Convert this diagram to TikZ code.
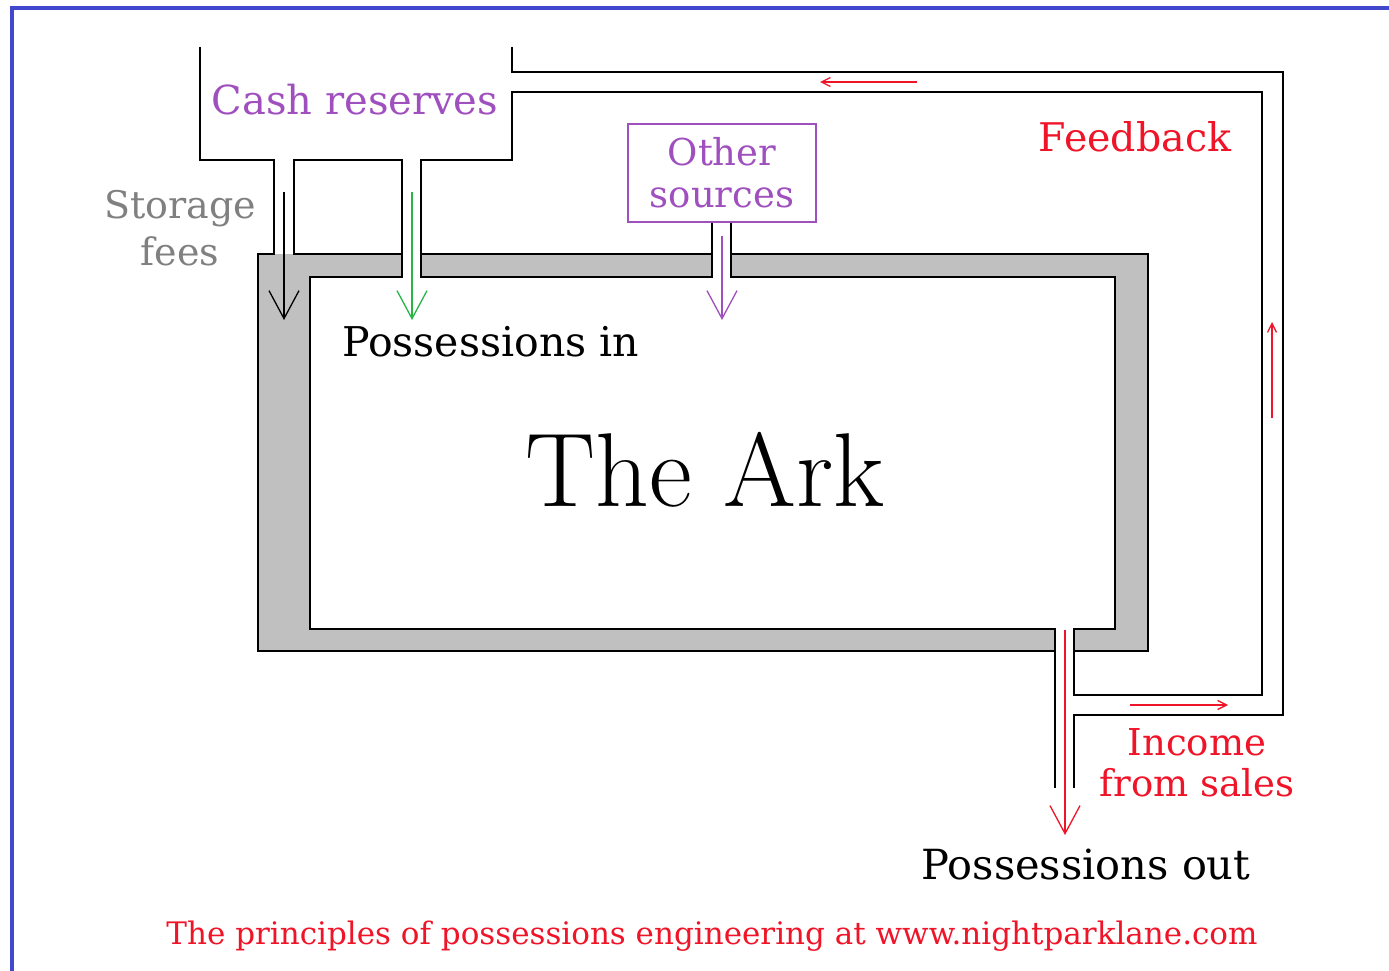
\documentclass[tikz,border=0pt]{standalone}
\usepackage{fontspec}
\setmainfont{DejaVu Serif}
\newfontfamily\arkfont{Latin Modern Roman}
\usetikzlibrary{arrows.meta}

\definecolor{frameblue}{RGB}{66,72,206}
\definecolor{wallgrey}{RGB}{192,192,192}
\definecolor{cashpurple}{RGB}{160,80,190}
\definecolor{feegrey}{RGB}{128,128,128}
\definecolor{ingreen}{RGB}{40,180,70}
\definecolor{salesred}{RGB}{240,20,40}

\tikzset{
  pipe/.style={draw, line width=2pt, line join=miter},
  flow/.style={line width=1.3pt, -{Straight Barb[length=28pt,width=30pt,line width=1.3pt]}},
  loopflow/.style={line width=1.3pt, salesred, -{Straight Barb[length=9pt,width=9pt,line width=1.3pt]}},
  label/.style={font=\fontsize{38}{46}\selectfont, align=center, inner sep=0pt}
}

\begin{document}
\begin{tikzpicture}[x=1pt,y=-1pt]
\useasboundingbox (0,0) rectangle (1389,971);
\fill[white] (0,0) rectangle (1389,971);
% frame
\draw[frameblue, line width=4pt] (12,975) -- (12,8) -- (1395,8);
% the ark walls
\fill[wallgrey] (258,254) rectangle (1148,651);
\fill[white] (310,277) rectangle (1115,629);
\fill[white] (402,252) rectangle (421,279);
\fill[white] (712,252) rectangle (731,279);
\fill[white] (1055,627) rectangle (1074,653);
\fill[white] (274,160) rectangle (294,253);
% pipes
\draw[pipe] (200,47) -- (200,160) -- (274,160) -- (274,254) -- (258,254) -- (258,651) -- (1055,651) -- (1055,788);
\draw[pipe] (402,254) -- (294,254) -- (294,160) -- (402,160) -- (402,277) -- (310,277) -- (310,629) -- (1055,629) -- (1055,651);
\draw[pipe] (421,254) -- (712,254);
\draw[pipe] (712,222) -- (712,277) -- (421,277) -- (421,160) -- (512,160) -- (512,92) -- (1262,92) -- (1262,695) -- (1074,695) -- (1074,629) -- (1115,629) -- (1115,277) -- (731,277) -- (731,222);
\draw[pipe] (731,254) -- (1148,254) -- (1148,651) -- (1074,651);
\draw[pipe] (512,47) -- (512,72) -- (1283,72) -- (1283,715) -- (1074,715) -- (1074,788);

% labels
\node[label, cashpurple, font=\fontsize{40}{46}\selectfont] (cash) at (355,100) {Cash reserves};
\node[label, feegrey, font=\fontsize{38}{47}\selectfont] (fees) at (180,228) {Storage\\fees};
\node[label, cashpurple, draw, line width=1.5pt, minimum width=188pt, minimum height=98pt, font=\fontsize{37}{42}\selectfont] (other) at (722,173) {Other\\sources};
\node[label, salesred, font=\fontsize{39.5}{46}\selectfont] (feedback) at (1135,137) {Feedback};
\node[label, font=\fontsize{41}{48}\selectfont, anchor=west] (posin) at (342,342) {Possessions in};
\node[inner sep=0pt, font=\arkfont\fontsize{105}{110}\selectfont] (ark) at (705,470) {The Ark};
\node[label, salesred, font=\fontsize{37}{41}\selectfont] (income) at (1197,763) {Income\\from sales};
\node[label, font=\fontsize{41.5}{48}\selectfont] (posout) at (1086,865) {Possessions out};
\node[label, salesred, font=\fontsize{31}{36}\selectfont] (footer) at (712,936) {The principles of possessions engineering at www.nightparklane.com};

% flows
\coordinate (feestart) at (284,192);
\coordinate (feeend) at (284,320);
\coordinate (cashstart) at (412,192);
\coordinate (cashend) at (412,320);
\coordinate (otherend) at (722,320);
\coordinate (outstart) at (1065,630);
\coordinate (outend) at (1065,835);
\draw[flow, black] (feestart) -- (feeend);
\draw[flow, ingreen] (cashstart) -- (cashend);
\draw[flow, cashpurple] (722,236) -- (otherend);
\draw[flow, salesred] (outstart) -- (outend);
\draw[loopflow] (1130,705) -- (1228,705);
\draw[loopflow] (1272,418) -- (1272,322);
\draw[loopflow] (917,82) -- (820,82);
\end{tikzpicture}
\end{document}
